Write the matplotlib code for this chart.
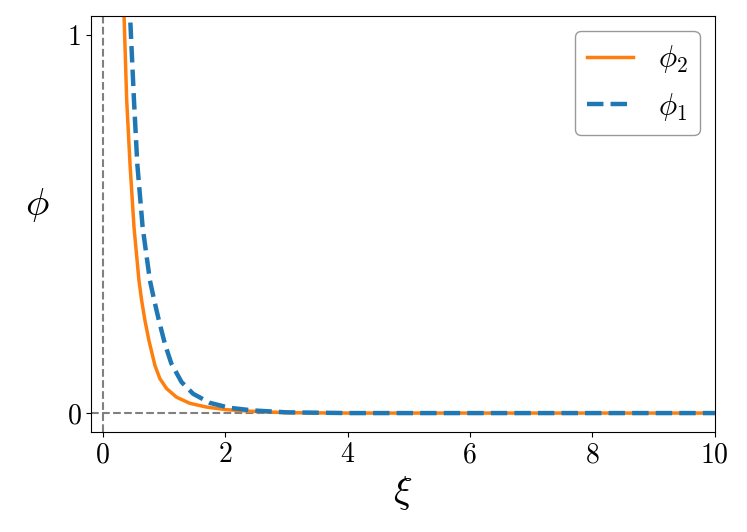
import matplotlib
matplotlib.use("Agg")
from matplotlib import pyplot as plt

plt.rcParams['font.family'] = 'serif'
plt.rcParams['font.serif'] = ['cmr10', 'DejaVu Serif']
plt.rcParams['mathtext.fontset'] = 'cm'
plt.rcParams['axes.unicode_minus'] = False

# phi_2 (orange, solid)
xi2 = [0.32, 0.347, 0.391, 0.445, 0.510, 0.591, 0.635, 0.689, 0.754, 0.852, 0.933,
       1.042, 1.205, 1.42, 1.69, 2.02, 2.40, 3.0, 4.0, 6.0, 8.0, 10.0]
phi2 = [1.15, 1.054, 0.827, 0.659, 0.492, 0.351, 0.298, 0.245, 0.192, 0.126, 0.091,
        0.065, 0.042, 0.026, 0.016, 0.009, 0.005, 0.001, 0.0, 0.0, 0.0, 0.0]

# phi_1 (blue, dashed)
xi1 = [0.43, 0.445, 0.510, 0.564, 0.651, 0.770, 0.841, 0.917, 1.015, 1.12, 1.287,
       1.476, 1.75, 2.07, 2.45, 3.0, 4.0, 6.0, 8.0, 10.0]
phi1 = [1.12, 1.054, 0.827, 0.659, 0.492, 0.351, 0.298, 0.245, 0.183, 0.131, 0.082,
        0.051, 0.027, 0.014, 0.007, 0.002, 0.0, 0.0, 0.0, 0.0]

xticks = [0, 2, 4, 6, 8, 10]
yticks = [0, 1]

fig = plt.figure(figsize=(7.47, 5.32), dpi=100)
ax = fig.add_axes([0.122, 0.188, 0.835, 0.782])

ax.axhline(0, color='gray', ls='--', lw=1.5)
ax.axvline(0, color='gray', ls='--', lw=1.5)
ax.plot(xi2, phi2, color='#ff7f0e', lw=2.5, label=r'$\phi_2$')
ax.plot(xi1, phi1, color='#1f77b4', lw=3.2, ls='--', label=r'$\phi_1$')

ax.set_xlim(-0.19, 10)
ax.set_ylim(-0.05, 1.05)
ax.set_xticks(xticks)
ax.set_yticks(yticks)
ax.tick_params(labelsize=20)
ax.set_xlabel(r'$\xi$', fontsize=28)
ax.set_ylabel(r'$\phi$', fontsize=28, rotation=0, labelpad=22)
ax.legend(fontsize=22, handlelength=1.5, loc='upper right', edgecolor='gray',
          borderaxespad=0.5)

fig.savefig('out.png', dpi=100)
